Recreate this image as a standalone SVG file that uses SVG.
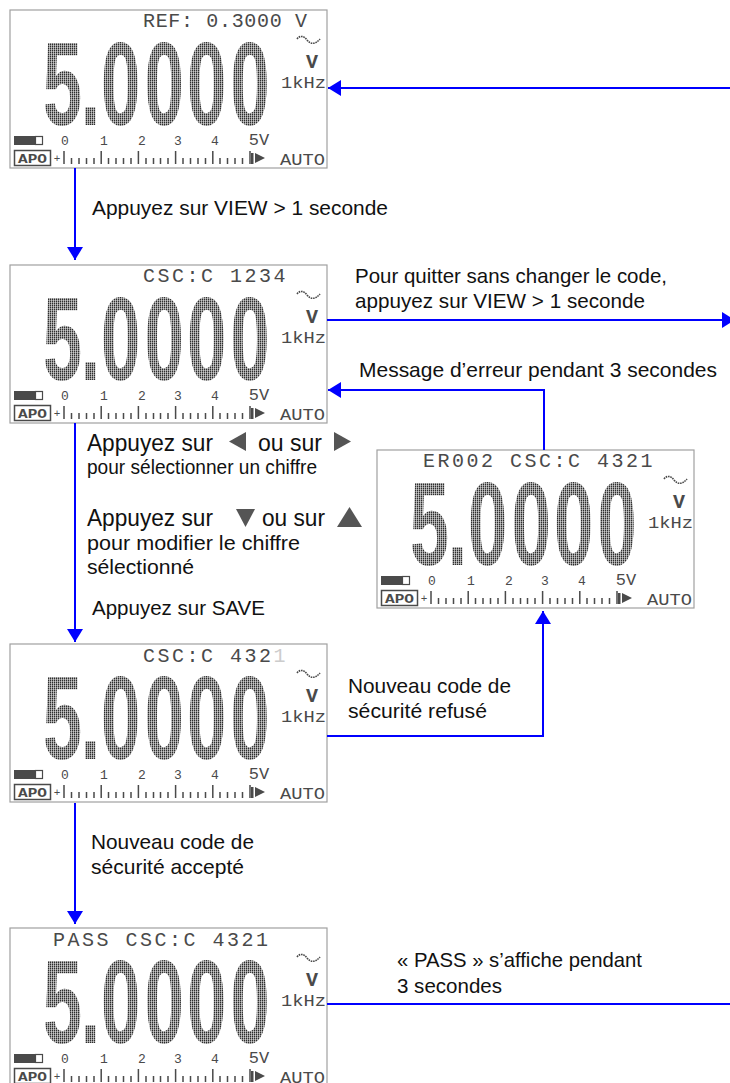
<svg xmlns="http://www.w3.org/2000/svg" xmlns:xlink="http://www.w3.org/1999/xlink" width="730" height="1083" viewBox="0 0 730 1083">
<style>
.lbl{font-family:"Liberation Sans",Arial,sans-serif;font-size:21px;fill:#111}
.l22{font-size:23px}
.l19{font-size:20px}
.lcd{font-family:"Liberation Mono","DejaVu Sans Mono",monospace;fill:#4a4a4a}
.top{font-size:20px;letter-spacing:2.5px}
.big{font-family:"Liberation Sans",Arial,sans-serif;font-weight:bold;font-size:118px;fill:url(#dots)}
.frame{fill:#fff;stroke:#a0a0a0;stroke-width:1.2}
.conn{fill:none;stroke:#0000ff;stroke-width:2}
.key{fill:#555}
.tick{fill:none;stroke:#4a4a4a;stroke-width:1.5}
</style>
<defs>
<pattern id="dots" width="2" height="2" patternUnits="userSpaceOnUse" patternTransform="scale(1.6667,1)">
<rect x="0" y="0" width="1.5" height="1.6" fill="#2e2e2e"/>
</pattern>
<marker id="ah" viewBox="0 0 13 16" refX="13" refY="8" markerWidth="13" markerHeight="16" markerUnits="userSpaceOnUse" orient="auto">
<path d="M0,0 L13,8 L0,16 z" fill="#0000ff"/>
</marker>
<g id="lcd">
<rect class="frame" x="0" y="0" width="317" height="158"/>
<text class="big" transform="scale(0.6,1)" x="87.5 134 184.7 257 327.8 400" y="115" text-anchor="middle">5.0000</text>
<path d="M287,29 C290,25 294,26 297,30 C300,34 305,35 310,29" fill="none" stroke="#4a4a4a" stroke-width="1.6" stroke-dasharray="1.6 0.8"/>
<text class="lcd" x="302" y="58" font-size="20" font-weight="bold" text-anchor="middle">V</text>
<text class="lcd" x="271" y="78" font-size="16" textLength="45" lengthAdjust="spacingAndGlyphs">1kHz</text>
<rect x="4" y="126" width="21" height="9" fill="#4a4a4a"/>
<rect x="25.5" y="126.5" width="7" height="8" fill="none" stroke="#4a4a4a" stroke-width="1.2"/>
<text class="lcd" font-size="13" y="135" text-anchor="middle"><tspan x="55">0</tspan><tspan x="94">1</tspan><tspan x="132">2</tspan><tspan x="168">3</tspan><tspan x="205">4</tspan></text>
<text class="lcd" x="249" y="135" font-size="17" text-anchor="middle">5V</text>
<rect x="4.5" y="140.5" width="36" height="15" fill="none" stroke="#4a4a4a" stroke-width="1.5"/>
<text class="lcd" x="8" y="153" font-size="12" font-weight="bold" textLength="29" lengthAdjust="spacingAndGlyphs">APO</text>
<text class="lcd" x="47" y="152" font-size="11" text-anchor="middle">+</text>
<path class="tick" d="M54,141V154M91.2,141V154M128.4,141V154M165.6,141V154M202.8,141V154M240,141V154M61.5,148V154M69,148V154M76.5,148V154M84,148V154M98.5,148V154M106,148V154M113.5,148V154M121,148V154M136,148V154M143.5,148V154M150.5,148V154M158,148V154M173,148V154M180.5,148V154M188,148V154M195.5,148V154M210,148V154M217.5,148V154M225,148V154M232.5,148V154"/>
<rect x="241" y="143" width="2.5" height="11" fill="#4a4a4a"/>
<polygon points="245,143 245,153 255,148" fill="#4a4a4a"/>
<text class="lcd" x="270" y="155" font-size="17" textLength="45" lengthAdjust="spacingAndGlyphs">AUTO</text>
</g>
</defs>

<g id="screen-ref" transform="translate(10,10)">
<use href="#lcd" xlink:href="#lcd"/>
<text class="lcd top" x="133" y="17" style="letter-spacing:0" textLength="164" lengthAdjust="spacing">REF: 0.3000 V</text>
</g>
<g id="screen-csc-1234" transform="translate(10,265)">
<use href="#lcd" xlink:href="#lcd"/>
<text class="lcd top" x="133" y="17">CSC:C 1234</text>
</g>
<g id="screen-error" transform="translate(377,450)">
<use href="#lcd" xlink:href="#lcd"/>
<text class="lcd top" x="46" y="17">ER002 CSC:C 4321</text>
</g>
<g id="screen-csc-4321" transform="translate(10,644)">
<use href="#lcd" xlink:href="#lcd"/>
<text class="lcd top" x="133" y="18">CSC:C 432<tspan fill="#cccccc">1</tspan></text>
</g>
<g id="screen-pass" transform="translate(10,928)">
<use href="#lcd" xlink:href="#lcd"/>
<text class="lcd top" x="43" y="18">PASS  CSC:C 4321</text>
</g>

<g id="connectors">
<path class="conn" d="M730,88 H328" marker-end="url(#ah)"/>
<path class="conn" d="M75,168 V260" marker-end="url(#ah)"/>
<path class="conn" d="M327,320 H735" marker-end="url(#ah)"/>
<path class="conn" d="M544,450 V390 H328" marker-end="url(#ah)"/>
<path class="conn" d="M75,423 V642" marker-end="url(#ah)"/>
<path class="conn" d="M327,736 H543 V611" marker-end="url(#ah)"/>
<path class="conn" d="M75,803 V924" marker-end="url(#ah)"/>
<path class="conn" d="M327,1004 H730"/>
</g>

<g id="labels">
<text class="lbl" x="92" y="215" textLength="296" lengthAdjust="spacingAndGlyphs">Appuyez sur VIEW &gt; 1 seconde</text>
<text class="lbl" x="355" y="283" textLength="312" lengthAdjust="spacingAndGlyphs">Pour quitter sans changer le code,</text>
<text class="lbl" x="355" y="308" textLength="290" lengthAdjust="spacingAndGlyphs">appuyez sur VIEW &gt; 1 seconde</text>
<text class="lbl" x="359" y="377" textLength="358" lengthAdjust="spacingAndGlyphs">Message d’erreur pendant 3 secondes</text>
<text class="lbl l22" x="87" y="451" textLength="126" lengthAdjust="spacingAndGlyphs">Appuyez sur</text>
<polygon class="key" points="246,432 246,451 229,441.5"/>
<text class="lbl l22" x="258" y="451" textLength="64" lengthAdjust="spacingAndGlyphs">ou sur</text>
<polygon class="key" points="334,432 334,451 351,441.5"/>
<text class="lbl l19" x="87" y="474" textLength="230" lengthAdjust="spacingAndGlyphs">pour sélectionner un chiffre</text>
<text class="lbl l22" x="87" y="526" textLength="126" lengthAdjust="spacingAndGlyphs">Appuyez sur</text>
<polygon class="key" points="236,509 255,509 245.5,527"/>
<text class="lbl l22" x="262" y="526" textLength="63" lengthAdjust="spacingAndGlyphs">ou sur</text>
<polygon class="key" points="337,527 362,527 349.5,507"/>
<text class="lbl l19" x="87" y="550" textLength="213" lengthAdjust="spacingAndGlyphs">pour modifier le chiffre</text>
<text class="lbl l19" x="87" y="574" textLength="107" lengthAdjust="spacingAndGlyphs">sélectionné</text>
<text class="lbl" x="92" y="615" textLength="173" lengthAdjust="spacingAndGlyphs">Appuyez sur SAVE</text>
<text class="lbl" x="348" y="693" textLength="163" lengthAdjust="spacingAndGlyphs">Nouveau code de</text>
<text class="lbl" x="348" y="718" textLength="139" lengthAdjust="spacingAndGlyphs">sécurité refusé</text>
<text class="lbl" x="91" y="849" textLength="163" lengthAdjust="spacingAndGlyphs">Nouveau code de</text>
<text class="lbl" x="91" y="874" textLength="153" lengthAdjust="spacingAndGlyphs">sécurité accepté</text>
<text class="lbl" x="397" y="967" textLength="245" lengthAdjust="spacingAndGlyphs">« PASS » s’affiche pendant</text>
<text class="lbl" x="397" y="993" textLength="105" lengthAdjust="spacingAndGlyphs">3 secondes</text>
</g>
</svg>
